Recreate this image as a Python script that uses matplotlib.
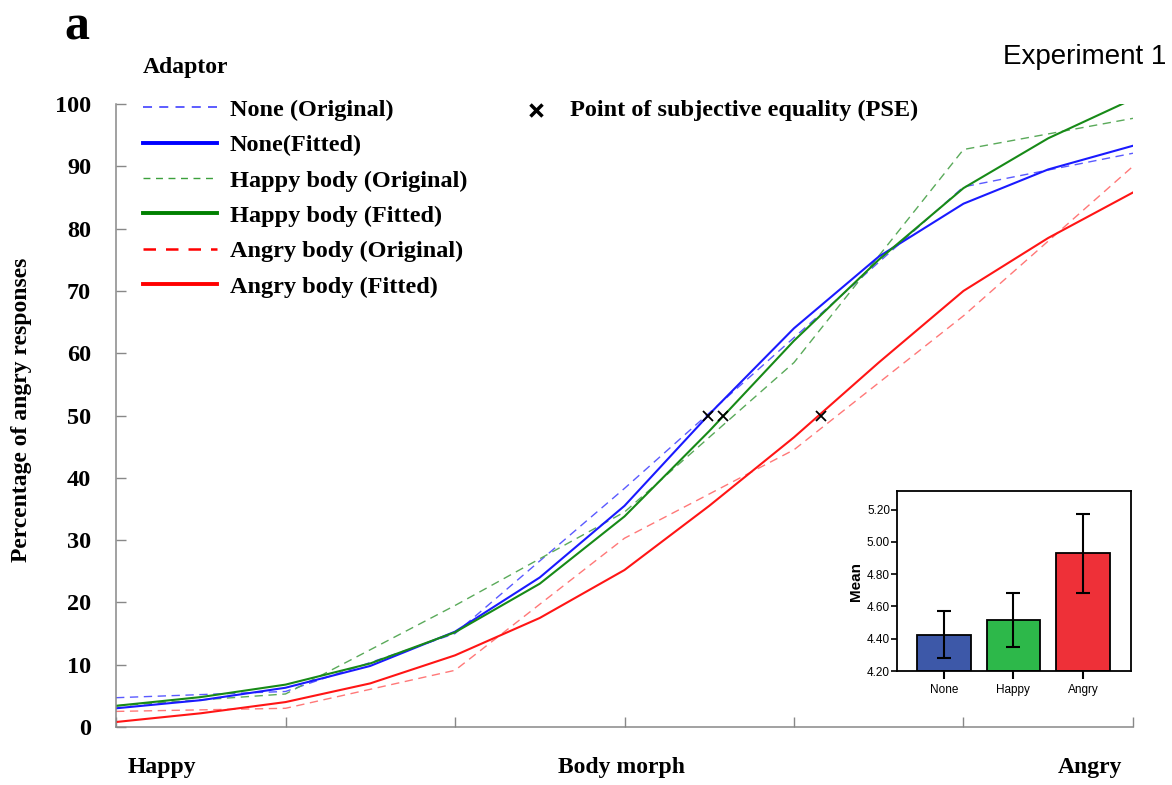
import matplotlib.pyplot as plt
from matplotlib.lines import Line2D

# morph steps (1 = happy ... 7 = angry)
morph = [1, 2, 3, 4, 5, 6, 7]
none_orig = [4.7, 5.7, 15.0, 38.3, 62.5, 86.7, 92.1]
happy_orig = [3.4, 5.3, 19.5, 34.5, 58.5, 92.7, 97.7]
angry_orig = [2.5, 3.0, 9.1, 30.3, 44.5, 66.0, 90.0]

# fitted curves read at half steps
fit_x = [1, 1.5, 2, 2.5, 3, 3.5, 4, 4.5, 5, 5.5, 6, 6.5, 7]
none_fit = [3.0, 4.3, 6.3, 9.8, 15.3, 24.0, 35.5, 50.2, 64.0, 75.5, 84.0, 89.5, 93.3]
happy_fit = [3.4, 4.8, 6.8, 10.2, 15.2, 23.0, 33.8, 47.5, 62.0, 75.0, 86.5, 94.5, 100.8]
angry_fit = [0.8, 2.2, 4.0, 7.0, 11.5, 17.5, 25.2, 35.5, 46.5, 58.5, 70.0, 78.5, 85.8]

pse_x = [4.49, 4.58, 5.16]
pse_y = [50, 50, 50]

# inset: mean PSE per adaptor
groups = ['None', 'Happy', 'Angry']
means = [4.426, 4.513, 4.928]
err_lo = [4.278, 4.346, 4.686]
err_hi = [4.570, 4.681, 5.171]
bar_colors = ['#3d58a8', '#2db84a', '#ee3038']

serif = 'Liberation Serif'
fig = plt.figure(figsize=(11.72, 7.85), dpi=100)
ax = fig.add_axes([0.099, 0.0739, 0.8677, 0.7936])

ax.plot(morph, none_orig, color='#5a5aff', lw=1.0, dashes=(6, 4))
ax.plot(morph, happy_orig, color='#5aaa5a', lw=1.0, dashes=(6, 4))
ax.plot(morph, angry_orig, color='#ff7878', lw=1.0, dashes=(6, 4))
ax.plot(fit_x, none_fit, color='#1a1aff', lw=1.5)
ax.plot(fit_x, happy_fit, color='#178a17', lw=1.5)
ax.plot(fit_x, angry_fit, color='#ff1515', lw=1.5)
ax.plot(pse_x, pse_y, 'x', color='black', ms=7, mew=1.3)

ax.set_xlim(1, 7)
ax.set_ylim(0, 100)
ax.set_xticks(morph)
ax.set_xticklabels([])
ax.set_yticks(range(0, 101, 10))
ax.set_yticklabels([str(v) for v in range(0, 101, 10)],
                   fontfamily=serif, fontweight='bold', fontsize=17.5)
for s in ['top', 'right']:
    ax.spines[s].set_visible(False)
for s in ['left', 'bottom']:
    ax.spines[s].set_color('#888888')
    ax.spines[s].set_linewidth(1.1)
ax.tick_params(direction='in', length=7, width=1.0, color='#888888')
ax.tick_params(axis='y', pad=18)

# legend
handles = [
    Line2D([], [], color='#4f4fff', lw=1.3, dashes=(5, 4)),
    Line2D([], [], color='#0000ff', lw=2.8),
    Line2D([], [], color='#3ca03c', lw=1.0, dashes=(5, 4)),
    Line2D([], [], color='#008000', lw=2.8),
    Line2D([], [], color='#ff0000', lw=1.8, dashes=(5, 4)),
    Line2D([], [], color='#ff0000', lw=2.8),
]
labels = ['None (Original)', 'None(Fitted)', 'Happy body (Original)',
          'Happy body (Fitted)', 'Angry body (Original)', 'Angry body (Fitted)']
leg = fig.legend(handles, labels, loc='upper left', bbox_to_anchor=(0.1135, 0.8865),
                 frameon=False,
                 prop={'family': serif, 'weight': 'bold', 'size': 17.5},
                 handlelength=3.05, handletextpad=0.53, labelspacing=0.55,
                 borderaxespad=0)
fig.text(143 / 1172, 1 - 67 / 785, 'Adaptor', fontfamily=serif, fontweight='bold',
         fontsize=17, va='center')

# PSE key
fig.lines.append(Line2D([536 / 1172], [1 - 110 / 785], marker='x', color='black',
                        ms=9, mew=2.5, transform=fig.transFigure))
fig.text(570 / 1172, 1 - 110 / 785, 'Point of subjective equality (PSE)',
         fontfamily=serif, fontweight='bold', fontsize=17.5, va='center')

fig.text(64 / 1172, 1 - 40 / 785, 'a', fontfamily=serif, fontweight='bold',
         fontsize=36, va='baseline')
fig.text(1166 / 1172, 1 - 64 / 785, 'Experiment 1', fontfamily='Liberation Sans',
         fontsize=20, ha='right', va='baseline')
fig.text(22 / 1172, 1 - 410 / 785, 'Percentage of angry responses', rotation=90,
         fontfamily=serif, fontweight='bold', fontsize=17, ha='center', va='center')
fig.text(128 / 1172, 1 - 768 / 785, 'Happy', fontfamily=serif, fontweight='bold',
         fontsize=17, va='center')
fig.text(622 / 1172, 1 - 768 / 785, 'Body morph', fontfamily=serif, fontweight='bold',
         fontsize=17, va='center', ha='center')
fig.text(1122 / 1172, 1 - 768 / 785, 'Angry', fontfamily=serif, fontweight='bold',
         fontsize=17, va='center', ha='right')

# inset bar chart
ins = fig.add_axes([0.7654, 0.1452, 0.1997, 0.2293])
pos = list(range(len(groups)))
yerr = [[m - lo for m, lo in zip(means, err_lo)], [hi - m for m, hi in zip(means, err_hi)]]
ins.bar(pos, [m - 4.2 for m in means], bottom=4.2, width=0.77, color=bar_colors,
        edgecolor='black', linewidth=1.3)
ins.errorbar(pos, means, yerr=yerr, fmt='none', ecolor='black', elinewidth=1.5,
             capsize=5, capthick=1.5)
ins.set_xlim(-0.67, 2.69)
ins.set_ylim(4.2, 5.315)
ins.set_yticks([4.2, 4.4, 4.6, 4.8, 5.0, 5.2])
ins.set_yticklabels(['%.2f' % v for v in [4.2, 4.4, 4.6, 4.8, 5.0, 5.2]],
                    fontfamily='Liberation Sans', fontsize=8.5)
ins.set_xticks(pos)
ins.set_xticklabels(groups, fontfamily='Liberation Sans', fontsize=8.5)
ins.set_ylabel('Mean', fontfamily='Liberation Sans', fontweight='bold', fontsize=11,
               labelpad=3)
for s in ins.spines.values():
    s.set_linewidth(1.3)
ins.tick_params(axis='y', length=4, width=1.2, pad=1)
ins.tick_params(axis='x', length=6, width=1.5, pad=3)

fig.savefig('out.png', dpi=100)
